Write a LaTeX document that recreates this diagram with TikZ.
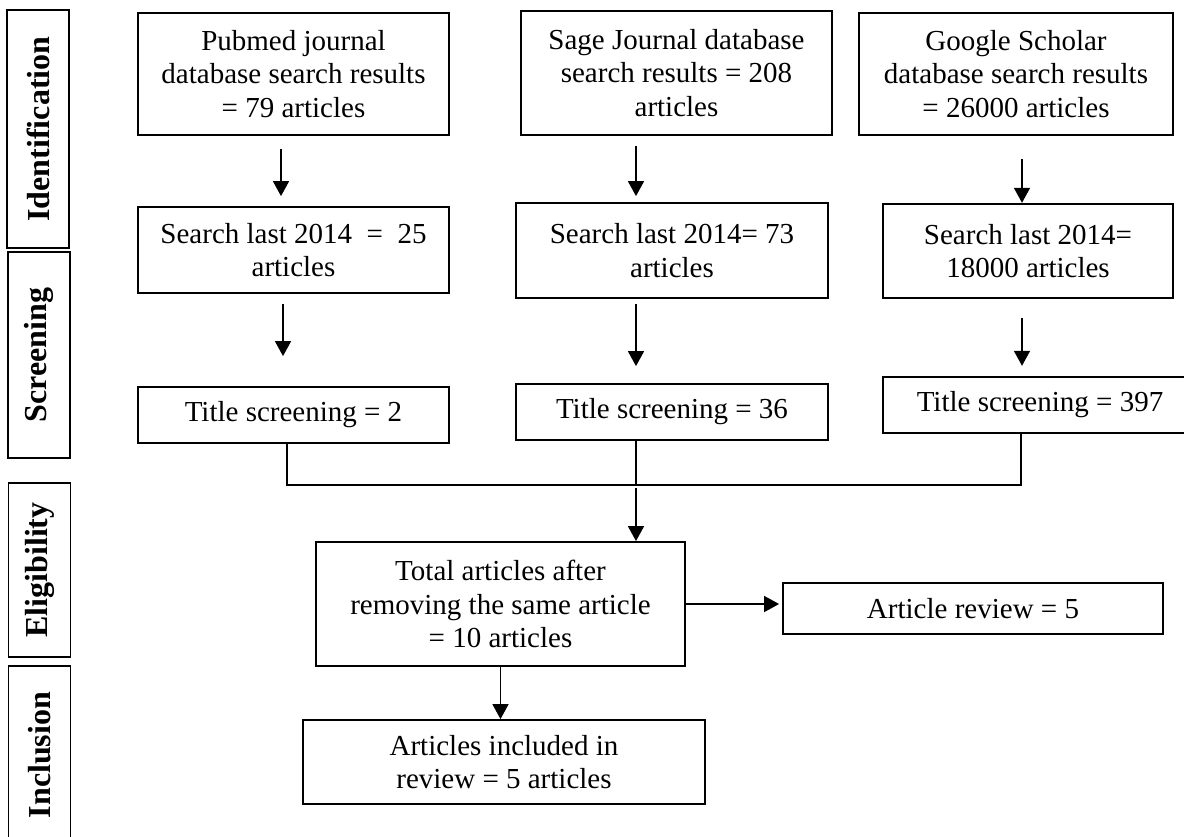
\documentclass[tikz,border=0pt]{standalone}
\usepackage{fontspec}
\setmainfont{Liberation Serif}
\usetikzlibrary{arrows.meta}

\begin{document}
\begin{tikzpicture}[x=0.5pt,y=-0.5pt]
                        \tikzstyle{box}=[draw, line width=0.9pt, inner sep=0pt, align=center, font=\fontsize{14.5}{16.7}\selectfont]
                        \tikzstyle{stage}=[draw, line width=0.9pt, inner sep=0pt, rotate=90, minimum height=31pt, font=\fontsize{16}{19}\selectfont\bfseries]
                        \tikzstyle{arr}=[line width=0.8pt, -{Triangle[length=7.5pt,width=8pt]}]
                        \tikzstyle{link}=[line width=0.8pt]
                        \useasboundingbox (0,0) rectangle (1184,836);
                        \clip (0,0) rectangle (1184,836);
                        \node[stage, minimum width=119pt] (ident) at (38,129) {Identification};
                        \node[stage, minimum width=103pt] (screen) at (39,355) {Screening};
                        \node[stage, minimum width=87pt] (elig) at (39.5,570) {Eligibility};
                        \node[stage, minimum width=89pt] (inclu) at (39.5,755) {Inclusion};
                        \node[box, minimum width=155.5pt, minimum height=61pt] (pub) at (293.5,74)
                            {Pubmed journal\\database search results\\= 79 articles};
                        \node[box, minimum width=155.5pt, minimum height=62pt] (sage) at (676.5,73)
                            {Sage Journal database\\search results = 208\\articles};
                        \node[box, line width=1.3pt, minimum width=157pt, minimum height=61pt] (goog) at (1016,74)
                            {Google Scholar\\database search results\\= 26000 articles};
                        \node[box, minimum width=155.5pt, minimum height=43pt] (s1) at (293.5,250)
                            {Search last 2014 \ = \ 25\\articles};
                        \node[box, minimum width=156pt, minimum height=47.5pt] (s2) at (672,250.5)
                            {Search last 2014= 73\\articles};
                        \node[box, line width=1.2pt, minimum width=145pt, minimum height=47pt] (s3) at (1028,251)
                            {Search last 2014=\\18000 articles};
                        \node[box, minimum width=155.5pt, minimum height=28pt] (t1) at (293.5,415) {Title screening = 2};
                        \node[box, minimum width=156pt, minimum height=28pt] (t2) at (672,412) {Title screening = 36};
                        \node[box, line width=1.2pt, minimum width=157pt, minimum height=28pt] (t3) at (1040,405) {Title screening = 397};
                        \node[box, minimum width=184.5pt, minimum height=62pt] (total) at (500.5,604)
                            {Total articles after\\removing the same article\\= 10 articles};
                        \node[box, minimum width=190pt, minimum height=25.5pt] (rev) at (973,608.5) {Article review = 5};
                        \node[box, minimum width=201pt, minimum height=42pt] (incl) at (504,762)
                            {Articles included in\\review = 5 articles};
                        \draw[arr] ([xshift=-6.25pt,yshift=-6.5pt]pub.south) -- ([xshift=-6.25pt,yshift=5pt]s1.north);
                        \draw[arr] ([xshift=-5.25pt,yshift=-5pt]s1.south) -- ([xshift=-5.25pt,yshift=15pt]t1.north);
                        \draw[arr] ([xshift=-20.25pt,yshift=-5pt]sage.south) -- ([xshift=-18pt,yshift=3pt]s2.north);
                        \draw[arr] ([xshift=-18pt,yshift=-2.5pt]s2.south) -- ([xshift=-18pt,yshift=8.5pt]t2.north);
                        \draw[arr] ([xshift=3pt,yshift=-11.5pt]goog.south) -- ([xshift=-3pt]s3.north);
                        \draw[arr] ([xshift=-3pt,yshift=-9.5pt]s3.south) -- ([xshift=-9pt,yshift=5pt]t3.north);
                        \coordinate (mid) at (636,485);
                        \draw[link] ([xshift=-3.25pt]t1.south) |- (mid) -| ([xshift=-9.5pt]t3.south);
                        \draw[link] ([xshift=-18pt]t2.south) -- (mid);
                        \draw[arr] ([yshift=-1.5pt]mid) -- (mid |- total.north);
                        \draw[arr, shorten >=1.5pt] (total.east) -- (total.east -| rev.west);
                        \draw[arr] (total.south) -- (total.south |- incl.north);
                    \end{tikzpicture}
\end{document}
